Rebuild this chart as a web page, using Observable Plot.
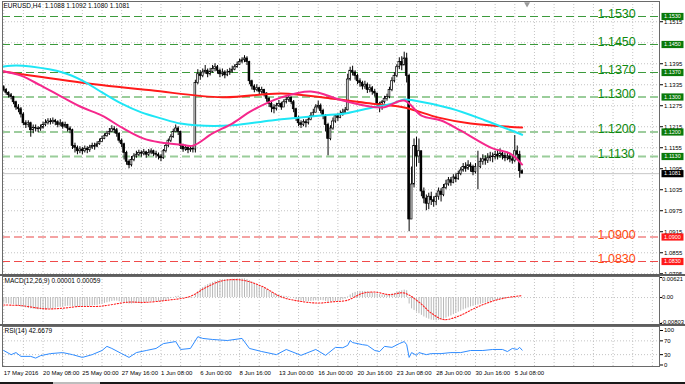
<!DOCTYPE html>
<html><head><meta charset="utf-8">
<script src="https://cdn.jsdelivr.net/npm/d3@7"></script>
<script src="https://cdn.jsdelivr.net/npm/@observablehq/plot@0.6"></script>
<style>
html,body{margin:0;padding:0;background:#fff;}
#chart{position:relative;width:685px;height:384px;overflow:hidden;background:#fff;font-family:"Liberation Sans",Arial,sans-serif;}
.sep{position:absolute;}
</style></head><body><div id="chart"></div><script>
// ---------- DATA (prices in pips above 1.0800) ----------
const firstOpen = 528;
const closes = [
520,512,505,500,485,470,465,450,425,420,
425,405,412,410,408,412,420,425,430,428,
432,428,420,425,415,420,410,405,360,355,
345,350,345,352,348,355,360,358,365,372,
380,388,395,400,408,405,395,375,365,340,
315,305,320,330,335,340,338,342,335,340,
345,338,335,330,325,345,360,375,385,400,
410,400,360,350,355,348,352,350,540,565,
560,570,575,565,572,580,585,575,565,570,
562,570,572,578,585,592,600,605,610,600,
545,530,520,525,515,520,510,495,480,470,
465,475,480,470,485,492,498,485,465,440,
425,420,428,425,435,445,455,470,475,460,
445,420,380,410,430,445,440,450,455,462,
550,575,570,560,545,540,530,535,520,525,
515,510,480,470,485,495,500,520,545,560,
585,600,590,610,560,150,250,360,330,345,
230,210,195,215,205,200,215,230,220,240,
250,262,255,270,265,280,290,300,295,305,
300,285,300,300,315,322,318,325,330,328,
335,330,338,332,325,330,322,318,345,335,
288,281];
const highs = [
532,524,515,510,502,488,478,470,455,432,
432,428,420,420,415,420,428,435,438,438,
440,436,432,435,428,428,422,415,408,368,
360,358,356,360,358,362,368,368,372,380,
388,395,402,410,418,415,410,398,380,368,
345,320,330,338,345,348,346,350,345,350,
352,348,345,340,335,350,365,380,392,408,
420,415,402,365,362,358,360,358,548,578,
575,580,590,580,582,590,595,590,580,580,
575,578,582,588,592,600,608,612,618,615,
602,548,535,535,528,528,522,512,498,485,
478,482,490,485,492,500,505,500,490,468,
445,432,435,435,442,455,465,478,488,480,
465,450,425,418,440,450,452,460,465,470,
565,585,588,575,565,552,545,545,540,535,
530,522,500,485,490,502,508,528,555,570,
592,612,615,628,625,565,300,380,385,380,
345,240,220,225,228,215,225,240,238,250,
262,270,270,278,280,288,298,310,312,318,
312,305,310,345,325,335,332,338,342,340,
345,350,352,345,340,342,338,332,390,360,
345,292];
const lows = [
515,505,497,492,478,462,455,440,418,410,
412,385,395,400,398,402,408,415,420,420,
422,418,412,415,408,410,400,395,350,340,
335,338,335,340,338,342,350,348,355,362,
370,378,385,390,398,395,385,368,355,320,
305,295,300,315,325,330,328,332,325,330,
335,330,325,320,315,322,340,355,370,382,
398,390,350,342,345,338,342,340,340,535,
548,555,565,555,560,568,572,565,555,558,
552,558,562,568,575,582,590,595,598,590,
535,520,512,515,505,508,500,485,470,455,
452,460,470,462,472,480,485,478,455,430,
415,410,415,412,420,432,445,455,465,452,
435,400,332,375,405,425,430,438,445,450,
460,545,560,548,535,528,520,522,510,512,
505,500,470,455,462,480,488,495,515,540,
555,578,575,590,540,115,180,240,300,310,
215,195,175,178,190,185,190,205,200,215,
235,245,245,252,255,262,275,285,285,290,
285,275,280,235,295,305,305,310,315,312,
320,320,325,320,315,318,312,308,312,318,
268,280];

// moving averages: [bar, pips]
const maCyan = [[0,587],[5,590],[11,587],[24,570],[32,547],[40,513],[48,481],[56,456],[64,439],[72,424],[78,419],[93,419],[109,433],[129,447],[139,453],[150,470],[158,481],[163,493],[167,490],[182,467],[196,433],[211,392]];
const maPink = [[0,573],[7,561],[15,533],[24,499],[32,470],[40,447],[48,413],[57,381],[64,370],[72,364],[77,361],[85,396],[93,424],[101,461],[113,499],[125,516],[138,490],[154,470],[163,490],[170,447],[178,433],[186,404],[199,353],[206,339],[211,307]];
const maRed = [[0,573],[32,541],[60,519],[89,499],[113,510],[133,496],[150,481],[163,470],[177,441],[190,424],[211,413]];

// MACD main (histogram) per bar, units of 0.0001
const macdMain = [
-18,-19,-20,-21,-22,-24,-26,-30,
-30,-32,-34,-35,-36,-37,-38,-38,
-38,-38,-37,-36,-35,-33,-31,-30,
-29,-28,-27,-27,-28,-29,-30,-30,
-30,-29,-28,-27,-26,-25,-24,-22,
-20,-18,-16,-14,-12,-11,-11,-13,
-15,-17,-19,-20,-20,-19,-18,-17,
-16,-15,-15,-14,-13,-13,-13,-13,
-13,-11,-9,-6,-3,0,3,4,
2,0,-1,-1,-1,-1,10,18,
25,31,36,40,44,47,50,52,
54,55,56,56,56,57,57,58,
58,58,58,56,52,48,44,40,
36,32,28,24,20,16,12,9,
7,5,4,3,2,0,-3,-6,
-9,-11,-12,-13,-13,-12,-11,-10,
-9,-9,-10,-12,-14,-14,-13,-12,
-11,-9,-7,-5,2,8,13,16,
18,19,19,19,18,17,15,13,
11,9,8,8,8,9,11,13,
16,19,21,23,21,-20,-35,-40,
-45,-50,-55,-60,-64,-67,-70,-71,
-72,-71,-69,-67,-64,-60,-57,-53,
-49,-45,-42,-38,-35,-32,-29,-27,
-25,-23,-21,-19,-17,-15,-13,-11,
-9,-8,-6,-5,-4,-3,-2,-1,
0,1,1,0];
// MACD signal: [bar, value in 0.0001]
const macdSignal = [[0,-23],[7,-25],[17,-35],[24,-33],[30,-28],[39,-27],[51,-14],[57,-15],[67,-8],[76,4],[82,30],[89,52],[97,54],[105,35],[113,2],[121,-12],[128,-17],[134,-13],[140,-8],[146,13],[151,17],[157,9],[163,14],[169,-14],[174,-48],[179,-68],[185,-58],[192,-32],[199,-11],[205,0],[211,6]];
// RSI(14): [bar, value]
const rsi = [[0,42],[3,30],[5,36],[7,25],[11,25],[13,20],[15,27],[19,33],[24,36],[28,30],[32,22],[36,30],[40,42],[42,54],[44,48],[48,33],[51,22],[54,36],[58,42],[62,48],[65,62],[70,68],[72,45],[76,48],[79,82],[81,77],[85,74],[91,71],[97,77],[100,48],[105,39],[111,30],[115,45],[121,28],[127,45],[131,28],[135,51],[138,50],[140,57],[141,71],[142,65],[146,59],[148,57],[151,42],[153,39],[155,54],[158,51],[161,62],[163,68],[164,59],[165,22],[166,36],[168,28],[169,36],[172,30],[174,33],[178,33],[182,36],[186,36],[190,42],[195,42],[199,45],[203,45],[205,39],[207,48],[209,45],[210,51],[211,43]];

// levels
const levelValues = [1.1530, 1.1450, 1.1370, 1.1300, 1.1200, 1.1130, 1.0900, 1.0830];
const levelTypes  = ["R", "R", "R", "Rm", "R", "Rm", "Sm", "S"];
const currentPrice = 1.1081;
const priceGrid = [1.1515,1.1455,1.1395,1.1335,1.1275,1.1215,1.1155,1.1095,1.1035,1.0975,1.0915,1.0855,1.0795];
const priceTickLabels = [1.1515,1.1395,1.1335,1.1275,1.1215,1.1155,1.1095,1.1035,1.0975,1.0915,1.0855,1.0795];
const macdTickValues = [0.00621, 0, -0.00803];
const macdTickLabels = ["0.00621", "0.00", "-0.00803"];
const rsiTicks = [100, 70, 30, 0];
const rsiLevels = [70, 30];
const xLabelBars = [0,16,32,48,64,80,96,112,128,144,160,176,192,208];
const xLabelTexts = ["17 May 2016","20 May 08:00","25 May 00:00","27 May 16:00","1 Jun 08:00","6 Jun 00:00","8 Jun 16:00","13 Jun 00:00","16 Jun 00:00","20 Jun 16:00","23 Jun 08:00","28 Jun 00:00","30 Jun 16:00","5 Jul 08:00"];
const titleMain = "EURUSD,H4  1.1088 1.1092 1.1080 1.1081";
const titleMacd = "MACD(12,26,9) 0.00001 0.00059";
const titleRsi = "RSI(14) 42.6679";

// ---------- build ----------
const P = v => 1.08 + v / 10000;
const candles = closes.map((c, i) => {
  const o = i ? closes[i-1] : firstOpen;
  return {i, o: P(o), c: P(c), h: P(Math.max(highs[i], o, c)), l: P(Math.min(lows[i], o, c))};
});
const toPts = arr => arr.map(([i, v]) => ({i, v: P(v)}));
const levels = levelValues.map((v, k) => ({v, t: levelTypes[k]}));
const gridBars = d3.range(0, 268, 8);
const xDomain = [-0.5, 266.9];
const FONT = "Liberation Sans, Arial, sans-serif";
const W = 685, ML = 2, MR = 26;
const boxSymbol = {draw(ctx){ctx.moveTo(-11,-3.6);ctx.lineTo(11,-3.6);ctx.lineTo(11,3.6);ctx.lineTo(-11,3.6);ctx.closePath();}};
const gridStyle = {stroke: "#c4c4c4", strokeDasharray: "1,2", strokeWidth: 1};

const styleOf = {
  R:  {stroke: "#3c9a3c", strokeWidth: 1.2, strokeDasharray: "8,4"},
  Rm: {stroke: "#9acd9a", strokeWidth: 2.2, strokeDasharray: "8,4"},
  Sm: {stroke: "#f4a3a3", strokeWidth: 2.2, strokeDasharray: "8,4"},
  S:  {stroke: "#f04a4a", strokeWidth: 1.2, strokeDasharray: "8,4"}
};
const levelMarks = Object.keys(styleOf).map(t => Plot.ruleY(levels.filter(d => d.t === t), {y: "v", ...styleOf[t]}));
const resLv = levels.filter(d => d.t[0] === "R"), supLv = levels.filter(d => d.t[0] === "S");

const main = Plot.plot({
  width: W, height: 276, marginLeft: ML, marginRight: MR, marginTop: 1, marginBottom: 1,
  x: {domain: xDomain, axis: null},
  y: {domain: [1.0790, 1.1572857], axis: null},
  style: {fontFamily: FONT, background: "none", overflow: "visible"},
  marks: [
    Plot.ruleX(gridBars, {x: d => d, ...gridStyle}),
    Plot.ruleY(priceGrid, {y: d => d, ...gridStyle}),
    Plot.ruleY([currentPrice], {y: d => d, stroke: "#c8c8c8", strokeWidth: 1}),
    ...levelMarks,
    Plot.ruleX(candles, {x: "i", y1: "l", y2: "h", stroke: "#000", strokeWidth: 1}),
    Plot.rect(candles, {x1: d => d.i - 0.36, x2: d => d.i + 0.36, y1: "o", y2: "c",
      fill: d => d.c >= d.o ? "#ffffff" : "#000000", stroke: "#000", strokeWidth: 0.7}),
    Plot.line(toPts(maRed), {x: "i", y: "v", stroke: "#ff1a1a", strokeWidth: 2, curve: "catmull-rom"}),
    Plot.line(toPts(maCyan), {x: "i", y: "v", stroke: "#1ee6f5", strokeWidth: 2, curve: "catmull-rom"}),
    Plot.line(toPts(maPink), {x: "i", y: "v", stroke: "#f5288c", strokeWidth: 2, curve: "catmull-rom"}),
    Plot.text(resLv, {y: "v", text: d => d.v.toFixed(4), frameAnchor: "right", textAnchor: "start", lineAnchor: "bottom", dx: -62, dy: 1.5, fontSize: 12.5, fill: "#0f8a0f"}),
    Plot.text(supLv, {y: "v", text: d => d.v.toFixed(4), frameAnchor: "right", textAnchor: "start", lineAnchor: "bottom", dx: -62, dy: 1.5, fontSize: 12.5, fill: "#ff4a10"}),
    Plot.dot([closes.length + 1], {x: d => d, frameAnchor: "top", dy: 2.5, symbol: "triangle", rotate: 180, r: 2.2, fill: "#9a9a9a", stroke: "none"}),
    Plot.frame({stroke: "#6a6a6a"}),
    Plot.axisY({ticks: priceTickLabels, anchor: "right", tickSize: 3, tickPadding: 1.5, tickFormat: d => d.toFixed(4), fontSize: 6, label: null}),
    Plot.dot(resLv, {y: "v", frameAnchor: "right", dx: 13, symbol: boxSymbol, fill: "#0a7a0a", stroke: "none"}),
    Plot.dot(supLv, {y: "v", frameAnchor: "right", dx: 13, symbol: boxSymbol, fill: "#ff1a1a", stroke: "none"}),
    Plot.dot([currentPrice], {y: d => d, frameAnchor: "right", dx: 13, symbol: boxSymbol, fill: "#000", stroke: "none"}),
    Plot.text(levels, {y: "v", text: d => d.v.toFixed(4), frameAnchor: "right", textAnchor: "middle", dx: 13, fill: "#fff", fontSize: 5.5}),
    Plot.text([currentPrice], {y: d => d, text: d => d.toFixed(4), frameAnchor: "right", textAnchor: "middle", dx: 13, fill: "#fff", fontSize: 5.5}),
    Plot.text([titleMain], {text: d => d, frameAnchor: "top-left", textAnchor: "start", lineAnchor: "top", dx: 1, dy: 2, fontSize: 6.5, fill: "#000"})
  ]
});

const macdHist = macdMain.map((v, i) => ({i, v: v / 10000}));
const macdSig = macdSignal.map(([i, v]) => ({i, v: v / 10000}));
const macd = Plot.plot({
  width: W, height: 50, marginLeft: ML, marginRight: MR, marginTop: 1, marginBottom: 1,
  x: {domain: xDomain, axis: null},
  y: {domain: [-0.00834, 0.00652], axis: null},
  style: {fontFamily: FONT, background: "none", overflow: "visible"},
  marks: [
    Plot.ruleX(gridBars, {x: d => d, ...gridStyle}),
    Plot.ruleY([0], {y: d => d, ...gridStyle}),
    Plot.ruleX(macdHist, {x: "i", y1: 0, y2: "v", stroke: "#b8b8b8", strokeWidth: 1}),
    Plot.line(macdSig, {x: "i", y: "v", stroke: "#ff2020", strokeWidth: 1.1, strokeDasharray: "1.3,1.7", curve: "catmull-rom"}),
    Plot.frame({stroke: "#6a6a6a"}),
    Plot.axisY({ticks: macdTickValues, anchor: "right", tickSize: 2, tickFormat: () => "", label: null}),
    Plot.text([0], {y: () => macdTickValues[0], text: () => macdTickLabels[0], frameAnchor: "right", textAnchor: "start", lineAnchor: "top", dx: 2.5, dy: -0.5, fontSize: 5.8}),
    Plot.text([1], {y: () => macdTickValues[1], text: () => macdTickLabels[1], frameAnchor: "right", textAnchor: "start", lineAnchor: "middle", dx: 2.5, fontSize: 5.8}),
    Plot.text([2], {y: () => macdTickValues[2], text: () => macdTickLabels[2], frameAnchor: "right", textAnchor: "start", lineAnchor: "bottom", dx: 1.5, dy: 0.5, fontSize: 5.8}),
    Plot.text([titleMacd], {text: d => d, frameAnchor: "top-left", textAnchor: "start", lineAnchor: "top", dx: 2, dy: 2, fontSize: 6.5, fill: "#000"})
  ]
});

const rsiPts = rsi.map(([i, v]) => ({i, v}));
const xLabels = xLabelBars.map((i, k) => ({i, t: xLabelTexts[k]}));
const rsiPlot = Plot.plot({
  width: W, height: 59, marginLeft: ML, marginRight: MR, marginTop: 1, marginBottom: 18,
  x: {domain: xDomain, axis: null},
  y: {domain: [-4.35, 111.6], axis: null},
  style: {fontFamily: FONT, background: "none", overflow: "visible"},
  marks: [
    Plot.ruleX(gridBars, {x: d => d, ...gridStyle}),
    Plot.ruleY(rsiLevels, {y: d => d, ...gridStyle}),
    Plot.line(rsiPts, {x: "i", y: "v", stroke: "#2f8cff", strokeWidth: 1}),
    Plot.frame({stroke: "#6a6a6a"}),
    Plot.axisY({ticks: rsiTicks, anchor: "right", tickSize: 3, tickPadding: 1.5, tickFormat: d => String(d), fontSize: 6, label: null}),
    Plot.text(xLabels, {x: "i", text: "t", frameAnchor: "bottom", textAnchor: "start", dx: 0, dy: 8.5, fontSize: 6, fill: "#000"}),
    Plot.text([titleRsi], {text: d => d, frameAnchor: "top-left", textAnchor: "start", lineAnchor: "top", dx: 2, dy: 2, fontSize: 6.5, fill: "#000"})
  ]
});

const root = document.getElementById("chart");
[[main, 0], [macd, 275], [rsiPlot, 325]].forEach(([el, top]) => {
  el.style.position = "absolute"; el.style.left = "0px"; el.style.top = top + "px";
  root.appendChild(el);
});
[[0, 274, 685, 2, "#5e5e5e"], [0, 324, 685, 2, "#5e5e5e"], [0, 382, 685, 2, "#1a1a1a"], [53, 382, 47, 2, "#bdbdbd"]].forEach(([l, t, w, h, c]) => {
  const d = document.createElement("div"); d.className = "sep";
  d.style.left = l + "px"; d.style.width = w + "px";
  d.style.top = t + "px"; d.style.height = h + "px"; d.style.background = c;
  root.appendChild(d);
});
</script></body></html>
